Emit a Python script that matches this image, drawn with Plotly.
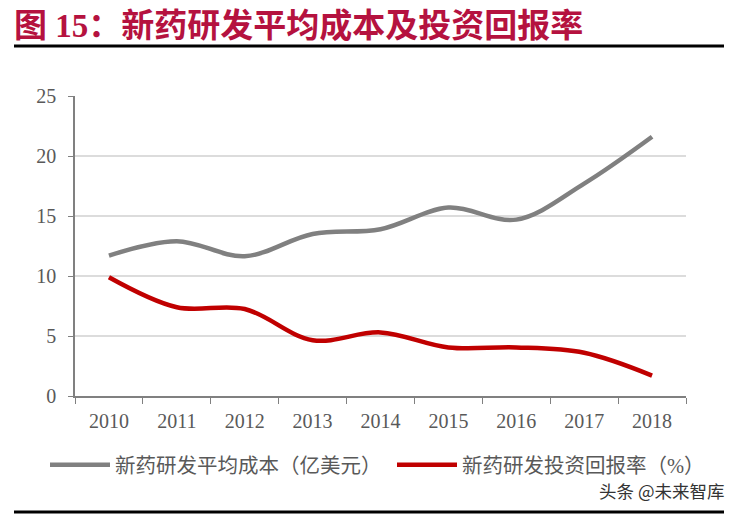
import plotly.graph_objects as go

years = ["2010", "2011", "2012", "2013", "2014", "2015", "2016", "2017", "2018"]
rd_cost = [11.7, 12.9, 11.65, 13.5, 13.9, 15.7, 14.7, 17.7, 21.6]
rd_return = [9.9, 7.4, 7.25, 4.65, 5.3, 4.05, 4.05, 3.6, 1.7]

cost_name = "新药研发平均成本（亿美元）"
return_name = "新药研发投资回报率（%）"
title_text = "图 15：新药研发平均成本及投资回报率"
source_text = "头条 @未来智库"

# the page body has an 8px margin, so the figure is 8px smaller than the window
OFF = 8
W, H = 739 - OFF, 517 - OFF
ML, MT = 75 - OFF, 96 - OFF
MR = W - (686 - OFF)
MB = H - (396 - OFF)
PW = W - ML - MR
PH = H - MT - MB

SERIF = "Liberation Serif, Noto Sans CJK SC, serif"
TEXT_GREY = "#595959"


def px_x(x):
    # x in reference pixels -> paper coords
    return (x - OFF - ML) / PW


def px_y(y):
    return (H - MB - (y - OFF)) / PH


def legend_at(x):
    return {
        "visible": True,
        "orientation": "h",
        "xref": "container",
        "yref": "container",
        "x": (x - OFF) / W,
        "xanchor": "left",
        "y": 1 - (465 - OFF) / H,
        "yanchor": "middle",
        "font": {"family": SERIF, "size": 20.5, "color": TEXT_GREY},
        "itemwidth": 60,
        "bgcolor": "rgba(0,0,0,0)",
    }


fig = go.Figure()
fig.add_trace(
    go.Scatter(
        x=years,
        y=rd_cost,
        name=cost_name,
        mode="lines",
        legend="legend",
        showlegend=True,
        line={"color": "#808080", "width": 4.5, "shape": "spline", "smoothing": 1.0},
    )
)
fig.add_trace(
    go.Scatter(
        x=years,
        y=rd_return,
        name=return_name,
        mode="lines",
        legend="legend2",
        showlegend=True,
        line={"color": "#C00000", "width": 4.5, "shape": "spline", "smoothing": 1.0},
    )
)

fig.update_xaxes(
    type="category",
    range=[-0.5, len(years) - 0.5],
    tickson="boundaries",
    ticks="outside",
    ticklen=6,
    tickcolor="#808080",
    showline=True,
    linecolor="#808080",
    linewidth=1.5,
    showgrid=False,
    ticklabelstandoff=6,
    tickfont={"family": SERIF, "size": 20, "color": TEXT_GREY},
)
fig.update_yaxes(
    range=[0, 25],
    dtick=5,
    ticks="outside",
    ticklen=5,
    tickcolor="#808080",
    showline=True,
    linecolor="#808080",
    linewidth=1.5,
    gridcolor="#dcdcdc",
    gridwidth=1.5,
    zeroline=False,
    ticklabelstandoff=8,
    tickfont={"family": SERIF, "size": 20, "color": TEXT_GREY},
)

rule = {"color": "black", "width": 3}
fig.update_layout(
    width=W,
    height=H,
    showlegend=True,
    margin={"l": ML, "r": MR, "t": MT, "b": MB, "autoexpand": False},
    paper_bgcolor="white",
    plot_bgcolor="white",
    title={
        "text": f"<b>{title_text}</b>",
        "xref": "container",
        "yref": "container",
        "x": (14 - OFF) / W,
        "xanchor": "left",
        "y": 1 - (25 - OFF) / H,
        "yanchor": "middle",
        "font": {"family": SERIF, "size": 33, "color": "#B5123F"},
    },
    legend=legend_at(45),
    legend2=legend_at(392),
    shapes=[
        dict(type="line", xref="paper", yref="paper",
             x0=px_x(14), x1=px_x(724), y0=px_y(46), y1=px_y(46), line=rule),
        dict(type="line", xref="paper", yref="paper",
             x0=px_x(14), x1=px_x(724), y0=px_y(512), y1=px_y(512), line=rule),
    ],
    annotations=[
        dict(
            text=source_text,
            xref="paper",
            yref="paper",
            x=px_x(726),
            y=px_y(490),
            xanchor="right",
            yanchor="middle",
            showarrow=False,
            font={"family": "Noto Sans CJK SC, sans-serif", "size": 17.5, "color": "#333333"},
        )
    ],
)

fig.write_html("out.html")
